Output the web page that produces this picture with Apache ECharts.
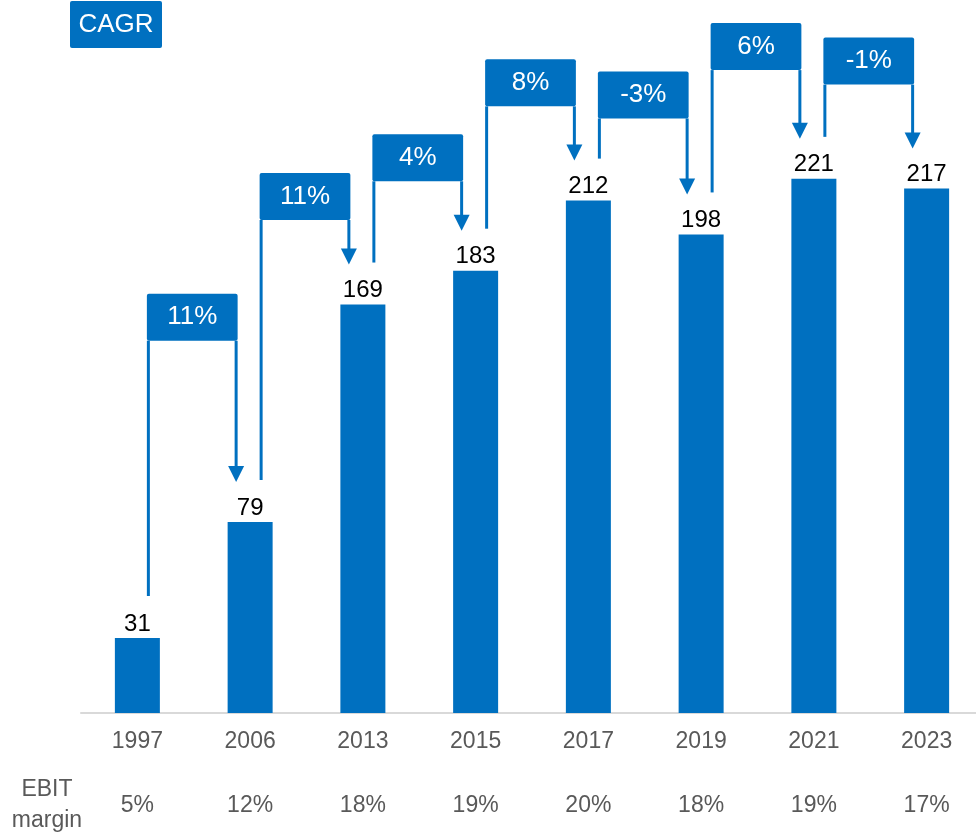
<!DOCTYPE html>
<html>
<head>
<meta charset="utf-8">
<title>CAGR</title>
<script src="https://cdn.jsdelivr.net/npm/echarts@6/dist/echarts.min.js"></script>
<style>
  html, body { margin: 0; padding: 0; background: #fff; }
  #chart { width: 976px; height: 832px; }
</style>
</head>
<body>
<div id="chart"></div>
<script>
// data
const years = ['1997', '2006', '2013', '2015', '2017', '2019', '2021', '2023'];
const revenue = [31, 79, 169, 183, 212, 198, 221, 217];
const ebitMargin = ['5%', '12%', '18%', '19%', '20%', '18%', '19%', '17%'];
const cagr = ['11%', '11%', '4%', '8%', '-3%', '6%', '-1%'];
// height (in value units) of the horizontal part of each CAGR arrow
const arrowLevel = [154, 204, 220, 251, 246, 266, 260];

const BLUE = '#0070C0';
const GREY = '#595959';
const FONT = '"Liberation Sans", Arial, sans-serif';

function renderArrow(params, api) {
    const i = api.value(0);
    const from = api.coord([i, api.value(1)]);
    const to = api.coord([i + 1, api.value(2)]);
    const lvl = api.coord([i, api.value(3)])[1];
    const x0 = from[0] + 11;
    const x1 = to[0] - 14;
    const y0 = from[1] - 42;
    const tip = to[1] - 40;
    const boxH = 47;
    return {
        type: 'group',
        children: [
            {
                type: 'rect',
                shape: { x: x0 - 1.5, y: lvl - boxH, width: x1 - x0 + 3, height: boxH, r: 2 },
                style: { fill: BLUE }
            },
            {
                type: 'line',
                shape: { x1: x0, y1: y0, x2: x0, y2: lvl },
                style: { stroke: BLUE, lineWidth: 3 }
            },
            {
                type: 'line',
                shape: { x1: x1, y1: lvl, x2: x1, y2: tip - 14 },
                style: { stroke: BLUE, lineWidth: 3 }
            },
            {
                type: 'polygon',
                shape: { points: [[x1 - 8, tip - 16], [x1 + 8, tip - 16], [x1, tip]] },
                style: { fill: BLUE }
            },
            {
                type: 'text',
                style: {
                    text: cagr[params.dataIndex],
                    x: (x0 + x1) / 2,
                    y: lvl - boxH / 2,
                    align: 'center',
                    verticalAlign: 'middle',
                    fill: '#fff',
                    fontSize: 26,
                    fontFamily: FONT
                }
            }
        ]
    };
}

const chart = echarts.init(document.getElementById('chart'));
chart.setOption({
    animation: false,
    backgroundColor: '#fff',
    textStyle: { fontFamily: FONT },
    grid: { left: 81, width: 902, top: 0, bottom: 119, outerBoundsMode: 'none', containLabel: false },
    xAxis: [{
        type: 'category',
        data: years,
        axisLine: { lineStyle: { color: '#d9d9d9', width: 2 } },
        axisTick: { show: false },
        axisLabel: { color: GREY, fontSize: 23, margin: 16, lineHeight: 26 }
    }, {
        type: 'category',
        data: years,
        position: 'bottom',
        offset: 64,
        axisLine: { show: false },
        axisTick: { show: false },
        axisLabel: {
            color: GREY, fontSize: 23, margin: 16, lineHeight: 26,
            formatter: function (v, idx) { return ebitMargin[idx]; }
        }
    }],
    yAxis: {
        type: 'value',
        min: 0,
        max: 295,
        show: false,
        splitLine: { show: false }
    },
    graphic: [
        {
            type: 'rect',
            left: 70, top: 1,
            shape: { width: 92, height: 47, r: 2 },
            style: { fill: BLUE }
        },
        {
            type: 'text',
            x: 116, y: 25,
            style: {
                text: 'CAGR', fill: '#fff', fontSize: 26, fontFamily: FONT,
                align: 'center', verticalAlign: 'middle'
            }
        },
        {
            type: 'text',
            x: 47, y: 805,
            style: {
                text: 'EBIT\nmargin', fill: GREY, fontSize: 23, fontFamily: FONT,
                lineHeight: 31, align: 'center', verticalAlign: 'middle'
            }
        }
    ],
    series: [{
        type: 'bar',
        data: revenue,
        barWidth: 45,
        itemStyle: { color: BLUE },
        label: {
            show: true, position: 'top', distance: 2,
            color: '#000', fontSize: 24
        }
    }, {
        type: 'custom',
        renderItem: renderArrow,
        encode: { x: 0, y: [1, 2, 3] },
        data: cagr.map(function (c, i) { return [i, revenue[i], revenue[i + 1], arrowLevel[i]]; }),
        z: 3
    }]
});
</script>
</body>
</html>
